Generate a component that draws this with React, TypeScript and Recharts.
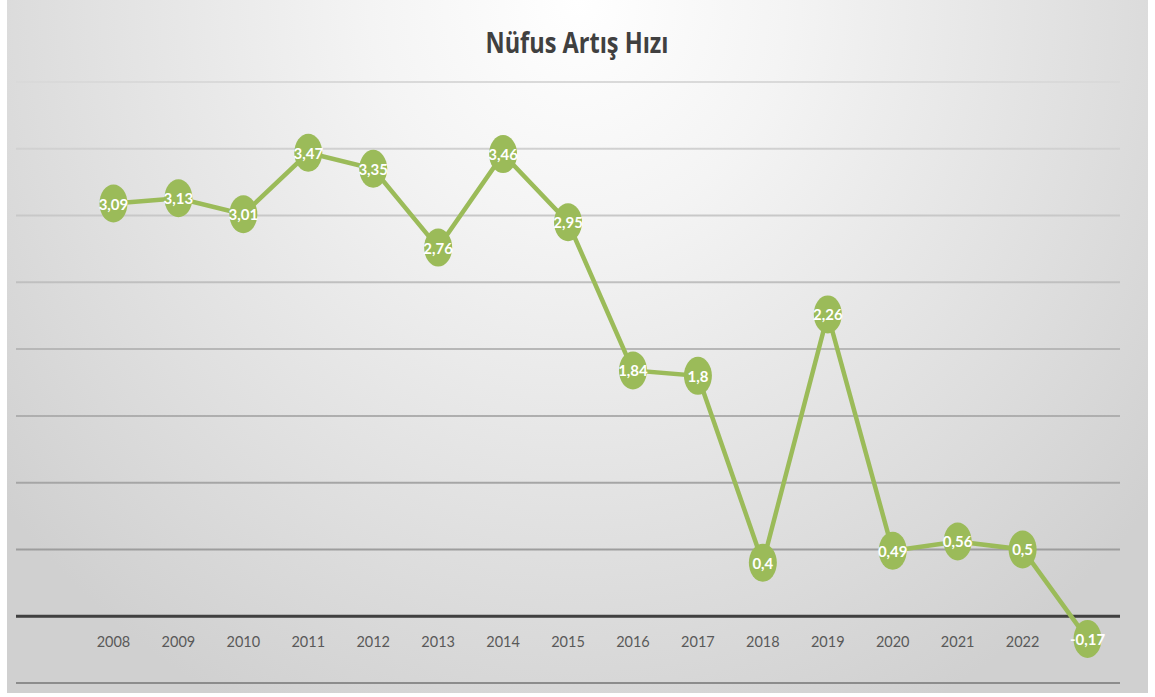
import React from "react";
import { LineChart, Line, XAxis, YAxis, CartesianGrid, ReferenceLine, LabelList } from "recharts";

// last category's year label is hidden behind its marker in the reference
const years = ["2008", "2009", "2010", "2011", "2012", "2013", "2014", "2015", "2016", "2017", "2018", "2019", "2020", "2021", "2022", ""];
const rates = [3.09, 3.13, 3.01, 3.47, 3.35, 2.76, 3.46, 2.95, 1.84, 1.8, 0.4, 2.26, 0.49, 0.56, 0.5, -0.17];
const yTicks = [-0.5, 0, 0.5, 1, 1.5, 2, 2.5, 3, 3.5, 4];
const title = "Nüfus Artış Hızı";

const data = years.map((y, i) => ({ year: y, rate: rates[i] }));

const GREEN = "#9bbb59";
const FONT = "Lato, 'Open Sans', sans-serif";

const Dot = (props: any) => {
  const { cx, cy } = props;
  if (cx == null || cy == null) return null;
  return <ellipse cx={cx} cy={cy} rx={14} ry={19} fill={GREEN} />;
};

const ValueLabel = (props: any) => {
  const { x, y, value } = props;
  if (value == null) return null;
  return (
    <text x={x} y={y} textAnchor="middle" dominantBaseline="central" fill="#ffffff" fontSize={15} fontWeight={700} fontFamily={FONT}>
      {String(value).replace(".", ",")}
    </text>
  );
};

const YearTick = (props: any) => {
  const { x, payload } = props;
  if (!payload.value) return <g />;
  return (
    <g>
      <text x={x} y={props.y} dy={-50} textAnchor="middle" dominantBaseline="central" fill="#595959" fontSize={14.5} fontFamily={FONT}>
        {payload.value}
      </text>
    </g>
  );
};

export default function App() {
  return (
    <div style={{ position: "absolute", left: 0, top: 0, width: 1155, height: 697, background: "#ffffff" }}>
      <div
        style={{
          position: "absolute",
          left: 7,
          top: 0,
          width: 1141,
          height: 693,
          background: "radial-gradient(ellipse 65% 115% at 50% 0%, #ffffff 0%, #f4f4f4 28%, #d0d0d0 100%)",
        }}
      />
      <div style={{ position: "absolute", left: 0, top: 0 }}>
        <LineChart width={1155} height={697} data={data} margin={{ top: 82, right: 35, bottom: 0, left: 16 }}>
          <defs>
            <linearGradient id="gridGrad" gradientUnits="userSpaceOnUse" x1="0" y1="0" x2="0" y2="697">
              <stop offset="0%" stopColor="#e4e4e4" />
              <stop offset="100%" stopColor="#8a8a8a" />
            </linearGradient>
          </defs>
          <text x={577} y={42} textAnchor="middle" dominantBaseline="central" fill="#404040" fontSize={28} fontWeight={700} fontFamily="'Open Sans', sans-serif" textLength={183} lengthAdjust="spacingAndGlyphs">
            {title}
          </text>
          <CartesianGrid vertical={false} horizontal={true} stroke="url(#gridGrad)" strokeWidth={2} />
          <XAxis dataKey="year" scale="band" padding={{ left: 65, right: 0 }} axisLine={false} tickLine={false} height={14} tick={<YearTick />} interval={0} />
          <YAxis hide domain={[-0.5, 4]} ticks={yTicks} width={0} />
          <ReferenceLine y={0} stroke="#404040" strokeWidth={3} />
          <ReferenceLine y={-0.5} stroke="#8c8c8c" strokeWidth={2} />
          <Line dataKey="rate" stroke={GREEN} strokeWidth={4.5} dot={<Dot />} activeDot={false} isAnimationActive={false}>
            <LabelList dataKey="rate" content={<ValueLabel />} />
          </Line>
        </LineChart>
      </div>
    </div>
  );
}
